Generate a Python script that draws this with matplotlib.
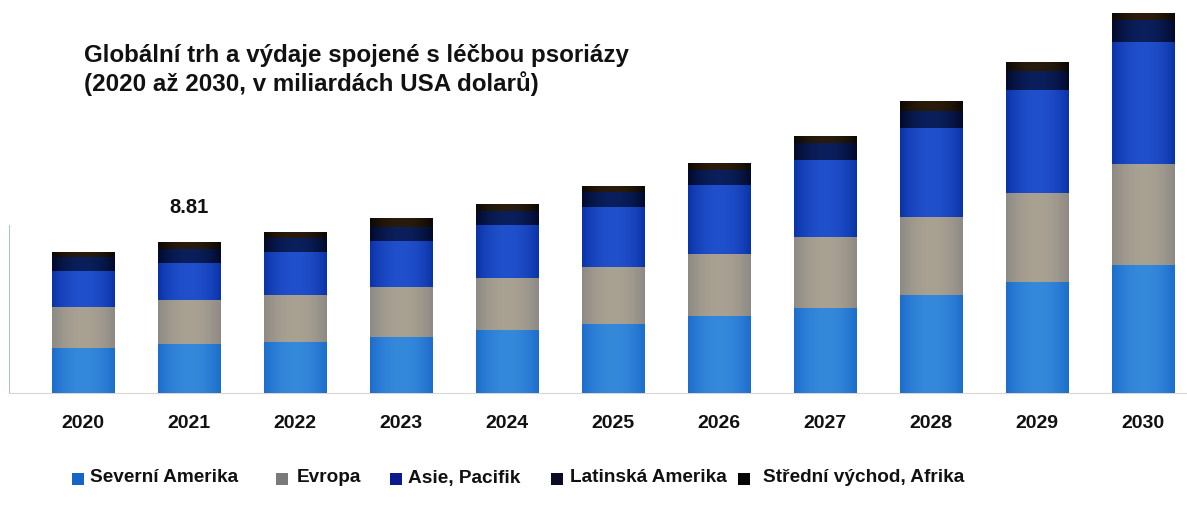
import numpy as np
import matplotlib
matplotlib.use("Agg")
import matplotlib.pyplot as plt
from matplotlib.colors import to_rgb
from matplotlib.patches import Rectangle

years = ["2020", "2021", "2022", "2023", "2024", "2025", "2026", "2027", "2028", "2029", "2030"]
severni_amerika = [2.64, 2.88, 3.00, 3.29, 3.70, 4.05, 4.52, 4.99, 5.76, 6.52, 7.52]
evropa = [2.41, 2.58, 2.76, 2.94, 3.05, 3.35, 3.64, 4.17, 4.58, 5.23, 5.93]
asie_pacifik = [2.11, 2.17, 2.53, 2.70, 3.11, 3.52, 4.05, 4.52, 5.23, 6.05, 7.17]
latinska_amerika = [0.82, 0.82, 0.82, 0.82, 0.82, 0.88, 0.88, 1.00, 1.00, 1.12, 1.29]
stredni_vychod = [0.29, 0.36, 0.35, 0.47, 0.41, 0.35, 0.41, 0.41, 0.53, 0.47, 0.41]
series_names = ["Severní Amerika", "Evropa", "Asie, Pacifik", "Latinská Amerika", "Střední východ, Afrika"]
label_year = "2021"
label_value = "8.81"

series = [severni_amerika, evropa, asie_pacifik, latinska_amerika, stredni_vychod]
# (centre colour, edge colour) of each stack segment
shades = [("#3589db", "#1d6dcc"),
          ("#a9a192", "#8d8a85"),
          ("#2150cc", "#0a33a8"),
          ("#0a1f5c", "#020a2c"),
          ("#2a1c0c", "#0c0804")]
legend_colors = ["#1565c8", "#7a7a7a", "#0c1a90", "#0a0c24", "#050505"]

FONT = ["Liberation Sans", "DejaVu Sans"]
plt.rcParams["font.family"] = FONT

fig = plt.figure(figsize=(11.87, 5.21), dpi=100)
W, H = 1187, 521
ax = fig.add_axes([9 / W, (H - 393) / H, (W - 9) / W, 383 / H])

x = np.arange(len(years))
width = 0.585
bottom = np.zeros(len(years))
ts = np.linspace(-1, 1, 64)
for vals, (c_mid, c_edge) in zip(series, shades):
    vals = np.array(vals)
    bars = ax.bar(x, vals, width, bottom=bottom, color=c_edge, linewidth=0, zorder=2)
    mid, edge = np.array(to_rgb(c_mid)), np.array(to_rgb(c_edge))
    w = (1 - ts ** 2)[None, :, None]
    grad = edge + (mid - edge) * w
    for b in bars:
        x0, y0 = b.get_x(), b.get_y()
        ax.imshow(grad, extent=(x0, x0 + b.get_width(), y0, y0 + b.get_height()),
                  aspect="auto", interpolation="bilinear", zorder=3)
    bottom += vals

i = years.index(label_year)
ax.annotate(label_value, (x[i], bottom[i]), xytext=(0, 18.5), textcoords="offset points",
            ha="center", va="bottom", fontsize=14.5, fontweight="bold", color="#111111")

ax.set_xlim(-74 / 106, (W - 83) / 106)
ax.set_ylim(0, 22.49)
ax.set_xticks(x)
ax.set_xticklabels(years, fontsize=14, fontweight="bold", color="#111111")
ax.tick_params(axis="x", length=0, pad=16)
ax.set_yticks([])
for s in ["top", "right", "left"]:
    ax.spines[s].set_visible(False)
ax.spines["bottom"].set_color("#ddd6ce")
ax.axvline(ax.get_xlim()[0], 0, 0.436, color="#a9bfd6", lw=1.5, zorder=1)

fig.text(84 / W, 1 - 70 / H, "Globální trh a výdaje spojené s léčbou psoriázy\n(2020 až 2030, v miliardách USA dolarů)",
         ha="left", va="center", fontsize=17.4, fontweight="bold", color="#111111", linespacing=1.24)

# legend row
leg_sq = [72, 276, 390, 551, 738]
leg_tx = [90, 297, 408, 570, 763]
for name, col, sx, tx in zip(series_names, legend_colors, leg_sq, leg_tx):
    fig.patches.append(Rectangle((sx / W, 1 - 485 / H), 12 / W, 12 / H, transform=fig.transFigure,
                                 facecolor=col, edgecolor="none"))
    fig.text(tx / W, 1 - 478 / H, name, ha="left", va="center", fontsize=13.7,
             fontweight="bold", color="#111111")

fig.savefig("out.png", dpi=100, facecolor="white")
